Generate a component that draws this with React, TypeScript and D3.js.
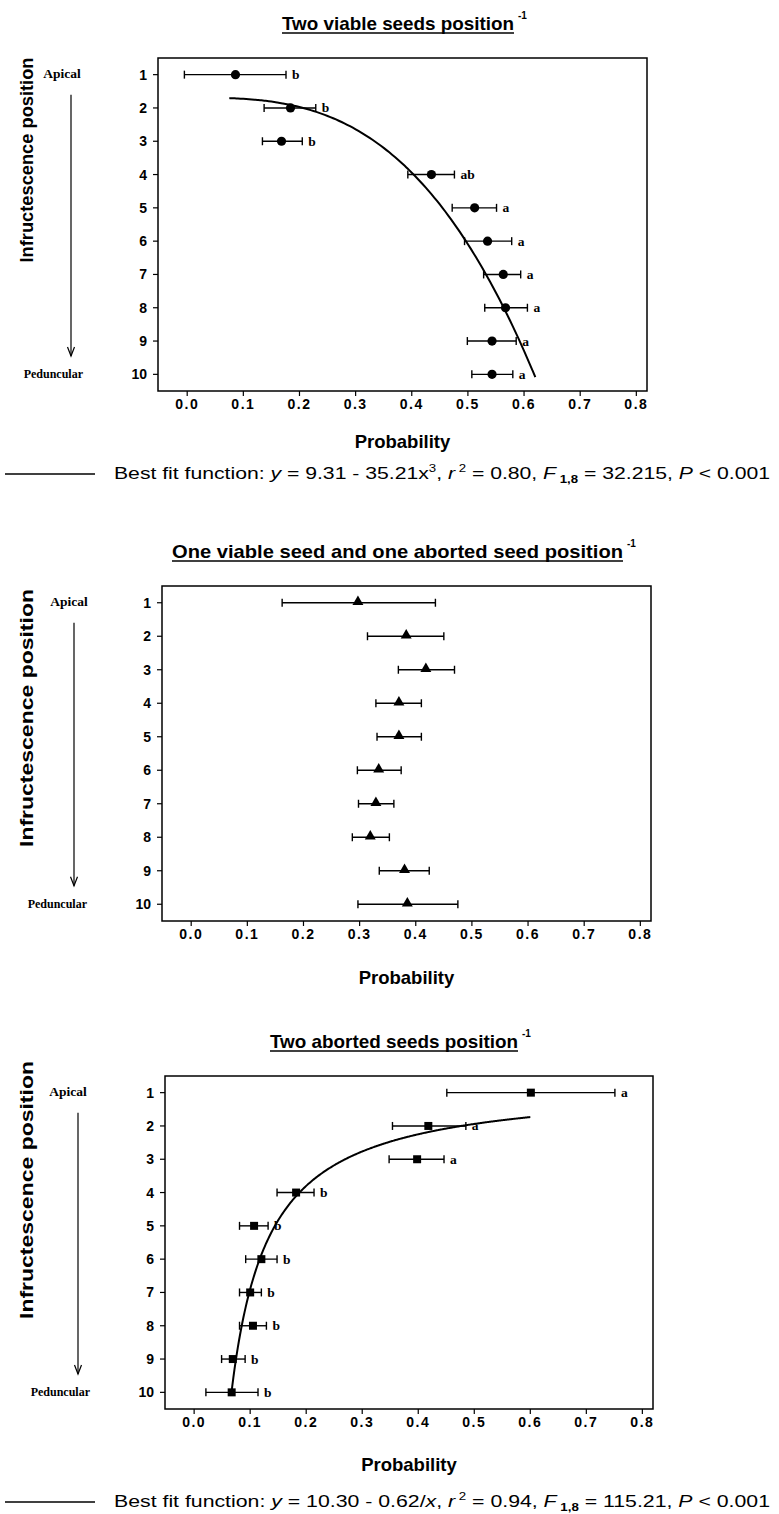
import React from 'react';
import * as d3 from 'd3';

// ---------- data ----------
const positions = [1, 2, 3, 4, 5, 6, 7, 8, 9, 10];
const xTickValues = [0, 0.1, 0.2, 0.3, 0.4, 0.5, 0.6, 0.7, 0.8];
const xTickLabels = ['0.0', '0.1', '0.2', '0.3', '0.4', '0.5', '0.6', '0.7', '0.8'];
const yTickLabels = ['1', '2', '3', '4', '5', '6', '7', '8', '9', '10'];

// Two viable seeds position-1
const twoViableMean = [0.086, 0.184, 0.168, 0.435, 0.512, 0.535, 0.563, 0.567, 0.543, 0.543];
const twoViableLow = [-0.005, 0.137, 0.134, 0.393, 0.472, 0.494, 0.528, 0.53, 0.499, 0.507];
const twoViableHigh = [0.176, 0.229, 0.205, 0.476, 0.551, 0.578, 0.594, 0.606, 0.586, 0.58];
const twoViableLetters = ['b', 'b', 'b', 'ab', 'a', 'a', 'a', 'a', 'a', 'a'];

// One viable seed and one aborted seed position-1
const oneEachMean = [0.297, 0.383, 0.418, 0.37, 0.37, 0.334, 0.329, 0.319, 0.38, 0.385];
const oneEachLow = [0.162, 0.314, 0.369, 0.329, 0.331, 0.296, 0.298, 0.287, 0.335, 0.297];
const oneEachHigh = [0.435, 0.45, 0.469, 0.41, 0.41, 0.374, 0.361, 0.353, 0.424, 0.475];

// Two aborted seeds position-1
const twoAbortedMean = [0.601, 0.418, 0.398, 0.182, 0.107, 0.12, 0.1, 0.105, 0.069, 0.067];
const twoAbortedLow = [0.451, 0.354, 0.348, 0.148, 0.081, 0.092, 0.081, 0.081, 0.049, 0.021];
const twoAbortedHigh = [0.751, 0.485, 0.446, 0.214, 0.132, 0.148, 0.12, 0.129, 0.091, 0.114];
const twoAbortedLetters = ['a', 'a', 'a', 'b', 'b', 'b', 'b', 'b', 'b', 'b'];

// best-fit functions as stated in the figure (y counted from the peduncle: position = 11 - y)
const fitCubic = { a: 9.31, b: 35.21, xMin: 0.075, xMax: 0.62 };
const fitInverse = { a: 10.3, b: 0.62, xMin: 0.066, xMax: 0.6 };

const X_DOMAIN: [number, number] = [-0.052, 0.819];
const SANS = '"Liberation Sans", Arial, sans-serif';
const SERIF = '"Liberation Serif", "Times New Roman", serif';

type PanelProps = {
  box: { left: number; right: number; top: number; bottom: number };
  mean: number[];
  low: number[];
  high: number[];
  letters?: string[];
  marker: 'circle' | 'triangle' | 'square';
  curve?: [number, number][];
  title: string;
  titleX: number;
  titleW: number;
  yLabelY: number;
  yLabelLen: number;
  arrowX: number;
  apicalX: number;
  probDy: number;
};

function Panel(p: PanelProps) {
  const { box } = p;
  const x = d3.scaleLinear().domain(X_DOMAIN).range([box.left, box.right]);
  const y = d3.scaleLinear().domain([0.5, 10.5]).range([box.top, box.bottom]);
  const line = d3
    .line<[number, number]>()
    .x((d) => x(d[0]))
    .y((d) => y(d[1]))
    .curve(d3.curveBasis);
  const tri = d3.symbol().type(d3.symbolTriangle).size(52)();
  const sq = d3.symbol().type(d3.symbolSquare).size(64)();
  const titleBase = box.top - 28;
  const arrowEnd = y(9.45);
  return (
    <g>
      {/* title */}
      <text
        x={p.titleX}
        y={titleBase}
        fontFamily={SANS}
        fontWeight="bold"
        fontSize={19}
        textLength={p.titleW}
        lengthAdjust="spacingAndGlyphs"
      >
        {p.title}
      </text>
      <line x1={p.titleX} x2={p.titleX + p.titleW} y1={titleBase + 3} y2={titleBase + 3} stroke="#000" strokeWidth={1.5} />
      <text x={p.titleX + p.titleW + 4} y={titleBase - 11} fontFamily={SANS} fontWeight="bold" fontSize={10}>
        -1
      </text>

      {/* y label */}
      <text
        transform={`translate(33,${p.yLabelY}) rotate(-90)`}
        textAnchor="middle"
        fontFamily={SANS}
        fontSize={18}
        fontWeight="bold"
        textLength={p.yLabelLen}
        lengthAdjust="spacingAndGlyphs"
      >
        Infructescence position
      </text>
      <text x={p.apicalX} y={y(1) + 3} textAnchor="middle" fontFamily={SERIF} fontWeight="bold" fontSize={13.5}>
        Apical
      </text>
      <line x1={p.arrowX} x2={p.arrowX} y1={y(1) + 20} y2={arrowEnd} stroke="#000" strokeWidth={1.2} />
      <path
        d={`M${p.arrowX - 3.5},${arrowEnd - 9} L${p.arrowX},${arrowEnd} L${p.arrowX + 3.5},${arrowEnd - 9}`}
        fill="none"
        stroke="#000"
        strokeWidth={1.2}
      />
      <text x={box.left - 75} y={y(10) + 4} textAnchor="end" fontFamily={SERIF} fontWeight="bold" fontSize={12}>
        Peduncular
      </text>

      {/* box */}
      <rect x={box.left} y={box.top} width={box.right - box.left} height={box.bottom - box.top} fill="none" stroke="#000" strokeWidth={1.5} />

      {/* y ticks */}
      {positions.map((v, i) => (
        <g key={'yt' + v}>
          <line x1={box.left - 5} x2={box.left} y1={y(v)} y2={y(v)} stroke="#000" strokeWidth={1.2} />
          <text x={box.left - 11} y={y(v) + 5} textAnchor="end" fontFamily={SANS} fontWeight="bold" fontSize={14}>
            {yTickLabels[i]}
          </text>
        </g>
      ))}
      {/* x ticks */}
      {xTickValues.map((v, i) => (
        <g key={'xt' + v}>
          <line x1={x(v)} x2={x(v)} y1={box.bottom} y2={box.bottom + 5} stroke="#000" strokeWidth={1.2} />
          <text x={x(v)} y={box.bottom + 18} textAnchor="middle" fontFamily={SANS} fontWeight="bold" fontSize={14} letterSpacing={1.5}>
            {xTickLabels[i]}
          </text>
        </g>
      ))}
      <text x={(box.left + box.right) / 2} y={box.bottom + p.probDy} textAnchor="middle" fontFamily={SANS} fontWeight="bold" fontSize={18.5}>
        Probability
      </text>

      {/* fit curve */}
      {p.curve && <path d={line(p.curve) || ''} fill="none" stroke="#000" strokeWidth={2} />}

      {/* error bars and points */}
      {positions.map((v, i) => {
        const cy = y(v);
        const x0 = x(p.low[i]);
        const x1 = x(p.high[i]);
        const cx = x(p.mean[i]);
        return (
          <g key={'pt' + v}>
            <line x1={x0} x2={x1} y1={cy} y2={cy} stroke="#000" strokeWidth={1.4} />
            <line x1={x0} x2={x0} y1={cy - 4} y2={cy + 4} stroke="#000" strokeWidth={1.4} />
            <line x1={x1} x2={x1} y1={cy - 4} y2={cy + 4} stroke="#000" strokeWidth={1.4} />
            {p.marker === 'circle' && <circle cx={cx} cy={cy} r={4.6} fill="#000" />}
            {p.marker === 'triangle' && <path d={tri || ''} transform={`translate(${cx},${cy - 1})`} fill="#000" />}
            {p.marker === 'square' && <path d={sq || ''} transform={`translate(${cx},${cy})`} fill="#000" />}
            {p.letters && (
              <text x={x1 + 6} y={cy + 4.5} fontFamily={SERIF} fontWeight="bold" fontSize={13.5}>
                {p.letters[i]}
              </text>
            )}
          </g>
        );
      })}
    </g>
  );
}

function Formula({ y, parts }: { y: number; parts: React.ReactNode }) {
  return (
    <g>
      <line x1={5} x2={95} y1={y - 5} y2={y - 5} stroke="#000" strokeWidth={1.6} />
      <text x={114} y={y} fontFamily={SANS} fontSize={16} textLength={656} lengthAdjust="spacingAndGlyphs">
        {parts}
      </text>
    </g>
  );
}

export default function App() {
  const curve1: [number, number][] = d3
    .range(fitCubic.xMin, fitCubic.xMax + 1e-9, 0.005)
    .map((v) => [v, 11 - (fitCubic.a - fitCubic.b * v * v * v)]);
  const curve3: [number, number][] = d3
    .range(fitInverse.xMin, fitInverse.xMax + 1e-9, 0.002)
    .map((v) => [v, 11 - (fitInverse.a - fitInverse.b / v)]);

  return (
    <svg width={779} height={1514} style={{ position: 'absolute', left: 0, top: 0, background: '#fff' }}>
      <rect x={0} y={0} width={779} height={1514} fill="#fff" />
      <Panel
        box={{ left: 158, right: 647, top: 58, bottom: 391 }}
        mean={twoViableMean}
        low={twoViableLow}
        high={twoViableHigh}
        letters={twoViableLetters}
        marker="circle"
        curve={curve1}
        title="Two viable seeds position"
        titleX={282}
        titleW={232}
        yLabelY={160}
        yLabelLen={205}
        arrowX={71}
        apicalX={62}
        probDy={57}
      />
      <Formula
        y={479}
        parts={
          <>
            Best fit function:{'  '}
            <tspan fontStyle="italic">y</tspan> = 9.31 - 35.21x
            <tspan dy={-7} fontSize={10}>3</tspan>
            <tspan dy={7}>, </tspan>
            <tspan fontStyle="italic">r</tspan>
            <tspan dy={-7} fontSize={10}> 2</tspan>
            <tspan dy={7}> = 0.80, </tspan>
            <tspan fontStyle="italic">F</tspan>
            <tspan dy={4} fontSize={10} fontWeight="bold"> 1,8</tspan>
            <tspan dy={-4}> = 32.215, </tspan>
            <tspan fontStyle="italic">P</tspan> {'< 0.001'}
          </>
        }
      />
      <Panel
        box={{ left: 162, right: 651, top: 586, bottom: 921 }}
        mean={oneEachMean}
        low={oneEachLow}
        high={oneEachHigh}
        marker="triangle"
        title="One viable seed and one aborted seed position"
        titleX={172}
        titleW={451}
        yLabelY={718}
        yLabelLen={258}
        arrowX={74}
        apicalX={69}
        probDy={63}
      />
      <Panel
        box={{ left: 165, right: 653, top: 1076, bottom: 1409 }}
        mean={twoAbortedMean}
        low={twoAbortedLow}
        high={twoAbortedHigh}
        letters={twoAbortedLetters}
        marker="square"
        curve={curve3}
        title="Two aborted seeds position"
        titleX={270}
        titleW={248}
        yLabelY={1190}
        yLabelLen={258}
        arrowX={78}
        apicalX={68}
        probDy={62}
      />
      <Formula
        y={1507}
        parts={
          <>
            Best fit function:{'  '}
            <tspan fontStyle="italic">y</tspan> = 10.30 - 0.62/
            <tspan fontStyle="italic">x</tspan>, <tspan fontStyle="italic">r</tspan>
            <tspan dy={-7} fontSize={10}> 2</tspan>
            <tspan dy={7}> = 0.94, </tspan>
            <tspan fontStyle="italic">F</tspan>
            <tspan dy={4} fontSize={10} fontWeight="bold"> 1,8</tspan>
            <tspan dy={-4}> = 115.21, </tspan>
            <tspan fontStyle="italic">P</tspan> {'< 0.001'}
          </>
        }
      />
    </svg>
  );
}
